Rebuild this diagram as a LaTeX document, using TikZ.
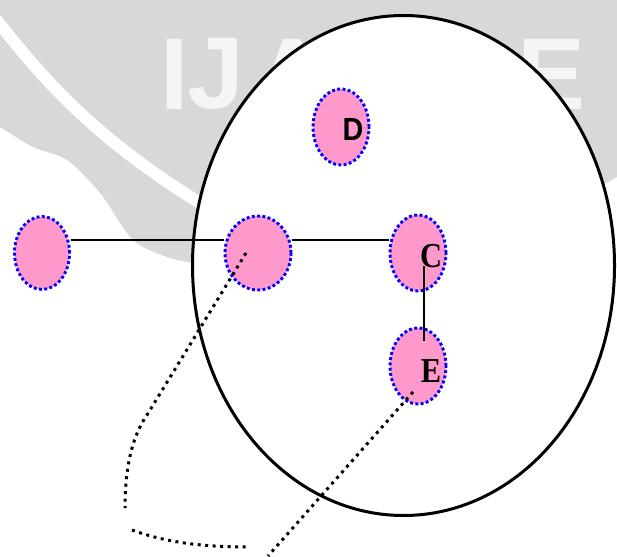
\documentclass[tikz,border=0pt]{standalone}
\usepackage{fontspec}
\usepackage{graphicx}
\usetikzlibrary{shapes.geometric}
\newfontfamily\sansfnt{Liberation Sans}
\newfontfamily\seriffnt{Liberation Serif}
\definecolor{pinkc}{RGB}{255,153,204}
\definecolor{wmgrey}{RGB}{216,216,216}
\begin{document}
\begin{tikzpicture}[x=1pt,y=-1pt,
  pinknode/.style={ellipse, draw=blue, fill=pinkc, line width=2.9pt,
    dash pattern=on 2.9pt off 2.4pt, inner sep=0pt},
  bigell/.style={ellipse, draw=black, fill=white, line width=3pt, inner sep=0pt},
  link/.style={line width=1.6pt},
  dotline/.style={line width=3pt, dash pattern=on 3pt off 4.5pt},
  wmletter/.style={text=white!96!black, inner sep=0pt, font=\sansfnt\bfseries\fontsize{102}{102}\selectfont},
  sanslab/.style={inner sep=0pt, font=\sansfnt\bfseries\fontsize{32}{32}\selectfont},
  seriflab/.style={inner sep=0pt, font=\seriffnt\bfseries\fontsize{35}{35}\selectfont}]
\useasboundingbox (0,0) rectangle (617,556);
% watermark
\fill[wmgrey] (0,0) -- (617,0) -- (617,177) -- (400,300) -- (193,263)
  -- plot[smooth] coordinates {(193,263) (167,257) (133,240) (100,193) (67,160) (33,147) (0,127)} -- cycle;
\draw[white, line width=12pt] (-5,18) .. controls (40,75) and (90,135) .. (200,203);
\node[wmletter] (wI) at (175,74) {I};
\node[wmletter] (wJ) at (216,74) {J};
\node[wmletter] (wA) at (292,74) {A};
\node[wmletter] (wE) at (552,74) {E};
% big ellipse
\node[bigell, minimum width=422pt, minimum height=500pt] (big) at (403.5,265.5) {};
% small ellipses
\node[pinknode, minimum width=55pt, minimum height=73pt] (L) at (42,253) {};
\node[pinknode, minimum width=66pt, minimum height=74pt] (M) at (258,253) {};
\node[pinknode, minimum width=56pt, minimum height=76pt] (C) at (418,253) {};
\node[pinknode, minimum width=56pt, minimum height=76pt] (D) at (341,127) {};
\node[pinknode, minimum width=56pt, minimum height=76pt] (E) at (418,366) {};
% solid links
\draw[link] ([yshift=13pt]L.east) -- ([yshift=13pt]M.west);
\draw[link] ([yshift=13pt]M.east) -- ([yshift=13pt]C.west);
\coordinate (ce1) at (424,266);
\coordinate (ce2) at (424,341);
\draw[link] (ce1) -- (ce2);
% dotted lines
\coordinate (m1) at (246,253);
\coordinate (p1) at (147,415);
\coordinate (p2) at (125,508);
\coordinate (q1) at (132,530);
\coordinate (q2) at (250,547);
\coordinate (e1) at (413,392);
\coordinate (e2) at (268,556);
\draw[dotline] (m1) -- (p1) .. controls (133,435) and (125,465) .. (p2);
\draw[dotline] (q1) .. controls (165,542) and (200,547) .. (q2);
\draw[dotline] (e1) -- (e2);
% labels
\node[sanslab] (labD) at (353,129) {\scalebox{0.9}[1]{D}};
\node[seriflab] (labC) at (431,256) {\scalebox{0.87}[1]{C}};
\node[seriflab] (labE) at (431,371) {\scalebox{0.87}[1]{E}};
\end{tikzpicture}
\end{document}
